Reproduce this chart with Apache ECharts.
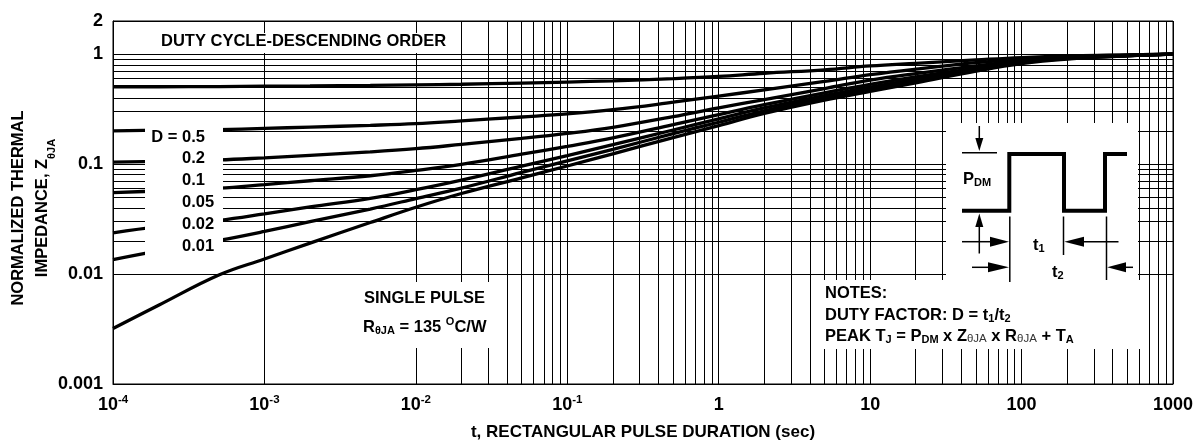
<!DOCTYPE html>
<html><head><meta charset="utf-8">
<script src="https://cdn.jsdelivr.net/npm/echarts@6/dist/echarts.min.js"></script>
<style>html,body{margin:0;padding:0;background:#fff}#c{width:1204px;height:445px}</style>
</head><body><div id="c"></div>
<script>
// ---- data ----
const durations = [1e-4,2e-4,5e-4,1e-3,2e-3,5e-3,1e-2,2e-2,5e-2,0.1,0.2,0.5,1,2,5,10,20,50,100,200,500,1000];
const zD05   = [0.505,0.505,0.507,0.51,0.513,0.519,0.526,0.532,0.545,0.557,0.572,0.598,0.626,0.67,0.72,0.78,0.825,0.885,0.93,0.962,0.985,1.0];
const zD02   = [0.2,0.203,0.206,0.211,0.217,0.225,0.233,0.247,0.268,0.286,0.312,0.365,0.415,0.473,0.564,0.65,0.73,0.835,0.90,0.948,0.98,1.0];
const zD01   = [0.104,0.106,0.109,0.114,0.12,0.129,0.138,0.151,0.171,0.19,0.216,0.27,0.325,0.386,0.486,0.58,0.665,0.78,0.875,0.935,0.975,1.0];
const zD005  = [0.055,0.057,0.0603,0.065,0.0705,0.0783,0.0875,0.0995,0.123,0.145,0.173,0.228,0.282,0.347,0.445,0.53,0.62,0.745,0.855,0.925,0.97,1.0];
const zD002  = [0.0237,0.027,0.0307,0.0352,0.0408,0.0488,0.0585,0.0715,0.096,0.1195,0.15,0.204,0.258,0.324,0.42,0.50,0.59,0.725,0.845,0.918,0.968,1.0];
const zD001  = [0.0135,0.0162,0.0202,0.0244,0.0299,0.039,0.0485,0.0605,0.084,0.107,0.136,0.189,0.24,0.305,0.40,0.48,0.57,0.71,0.835,0.91,0.965,1.0];
const zSingle= [0.0032,0.0052,0.0098,0.0137,0.0191,0.0294,0.0405,0.054,0.075,0.096,0.124,0.174,0.224,0.289,0.382,0.457,0.547,0.70,0.82,0.90,0.963,1.0];
const dutyLabels = ['0.5','0.2','0.1','0.05','0.02','0.01'];
const minorMultipliers = [2,3,4,5,6,7,8,9];
const xDecades = [-4,-3,-2,-1,0,1,2];
const yDecades = [-3,-2,-1];

const FF = '"Liberation Sans", Arial, Helvetica, sans-serif';
const xMinor = [], yMinor = [];
xDecades.forEach(k => minorMultipliers.forEach(m => xMinor.push(parseFloat((m*Math.pow(10,k)).toPrecision(3)))));
yDecades.forEach(k => minorMultipliers.forEach(m => yMinor.push(parseFloat((m*Math.pow(10,k)).toPrecision(3)))));

const curves = [zD05, zD02, zD01, zD005, zD002, zD001, zSingle];

const chart = echarts.init(document.getElementById('c'), null, {renderer:'canvas'});

function txt(x, y, text, opts) {
  return {type:'text', x:x, y:y, z:110, silent:true,
    style: Object.assign({text:text, fontFamily:FF, fontWeight:'bold', fontSize:16.5, fill:'#000', align:'left', verticalAlign:'middle'}, opts||{})};
}
const richSub = {
  m: {fontFamily:FF, fontWeight:'bold', fontSize:16.5, lineHeight:20, verticalAlign:'bottom', fill:'#000'},
  s: {fontFamily:FF, fontWeight:'bold', fontSize:11, lineHeight:12, padding:[10,0,0,0], verticalAlign:'bottom', fill:'#000'},
  n: {fontFamily:FF, fontWeight:'normal', fontSize:11.5, lineHeight:12, padding:[10,0,0,0], verticalAlign:'bottom', fill:'#333'},
  u: {fontFamily:FF, fontWeight:'bold', fontSize:11, lineHeight:12, verticalAlign:'top', fill:'#000'}
};
function rect(x,y,w,h){ return {type:'rect', z:100, silent:true, shape:{x:x,y:y,width:w,height:h}, style:{fill:'#fff'}}; }
function ln(x1,y1,x2,y2,w){ return {type:'line', z:105, silent:true, shape:{x1:x1,y1:y1,x2:x2,y2:y2}, style:{stroke:'#000', lineWidth:w||1.5}}; }
function tri(pts){ return {type:'polygon', z:106, silent:true, shape:{points:pts}, style:{fill:'#000'}}; }

const graphics = [
  rect(156,33,299,20),
  rect(145,121,78,142),
  rect(355,282,145,66),
  rect(946,123,192,159),
  rect(818,280,327,69),
  txt(161,41,'DUTY CYCLE-DESCENDING ORDER'),
  txt(182,137,'D = ',{align:'right'})
];
dutyLabels.forEach((d,i) => graphics.push(txt(182, 137 + i*21.9, d)));
graphics.push(txt(364,298,'SINGLE PULSE'));
graphics.push(txt(363,326,'{m|R}{s|θJA}{m| = 135 }{u|O}{m|C/W}',{rich:richSub}));
graphics.push(txt(825,293,'NOTES:'));
graphics.push(txt(825,314,'{m|DUTY FACTOR: D = t}{s|1}{m|/t}{s|2}',{rich:richSub}));
graphics.push(txt(825,335,'{m|PEAK T}{s|J}{m| = P}{s|DM}{m| x Z}{n|θJA}{m| x R}{n|θJA}{m| + T}{s|A}',{rich:richSub}));
// pulse diagram
graphics.push({type:'polyline', z:105, silent:true, shape:{points:[[962,210.7],[1009.3,210.7],[1009.3,154],[1064,154],[1064,210.7],[1105,210.7],[1105,154],[1127,154]]}, style:{stroke:'#000', lineWidth:4, fill:null, lineJoin:'miter'}});
graphics.push(ln(962,152.7,997,152.7,1.5));
graphics.push(ln(979.3,126,979.3,140,1.5));
graphics.push(tri([[979.3,151],[975.3,138],[983.3,138]]));
graphics.push(ln(979.3,226,979.3,253.5,1.5));
graphics.push(tri([[979.3,213.5],[975.3,227],[983.3,227]]));
graphics.push(ln(1009.8,216.5,1009.8,282,1.5));
graphics.push(ln(1063.5,216.5,1063.5,255,1.5));
graphics.push(ln(1106.5,216.5,1106.5,280,1.5));
graphics.push(ln(962,241.7,992,241.7,1.5));
graphics.push(tri([[1009,241.7],[990,236.7],[990,246.7]]));
graphics.push(ln(1082,241.7,1118.5,241.7,1.5));
graphics.push(tri([[1064.3,241.7],[1084,236.7],[1084,246.7]]));
graphics.push(ln(972,267.3,990,267.3,1.5));
graphics.push(tri([[1009,267.3],[988,262.3],[988,272.3]]));
graphics.push(ln(1124,267.3,1133,267.3,1.5));
graphics.push(tri([[1107.2,267.3],[1126,262.3],[1126,272.3]]));
graphics.push(txt(963,178,'{m|P}{s|DM}',{rich:richSub}));
graphics.push(txt(1033,244,'{m|t}{s|1}',{rich:richSub}));
graphics.push(txt(1052,271,'{m|t}{s|2}',{rich:richSub}));
// y axis title
graphics.push({type:'text', z:110, silent:true, x:33.5, y:208, rotation:Math.PI/2,
  style:{text:'{m|NORMALIZED THERMAL}\n{m|IMPEDANCE, Z}{s|θJA}', align:'center', verticalAlign:'middle',
    rich:{
      m:{fontFamily:FF, fontWeight:'bold', fontSize:16.5, lineHeight:23.5, verticalAlign:'top', fill:'#000'},
      s:{fontFamily:FF, fontWeight:'bold', fontSize:11, lineHeight:12, padding:[11,0,0,0], verticalAlign:'bottom', fill:'#000'}
    }}});

const option = {
  animation:false,
  backgroundColor:'#fff',
  grid:{left:113, right:31, top:21, bottom:61, show:true, borderColor:'#000', borderWidth:1, containLabel:false, outerBoundsMode:'none'},
  xAxis:{
    type:'log', logBase:10, min:1e-4, max:1000,
    axisLine:{show:true, lineStyle:{color:'#000', width:1}},
    axisTick:{show:false},
    splitLine:{show:true, lineStyle:{color:'#000', width:1, type:'solid'}},
    minorTick:{show:false}, minorSplitLine:{show:false},
    axisLabel:{show:true, margin:10, showMinLabel:true, showMaxLabel:true, hideOverlap:false,
      formatter:function(v){
        if (v < 1) { const e = Math.round(Math.log10(v)); return '{b|10}{p|' + e + '}'; }
        return '{b|' + Math.round(v) + '}';
      },
      rich:{
        b:{fontFamily:FF, fontWeight:'bold', fontSize:18, lineHeight:20, verticalAlign:'bottom', color:'#000'},
        p:{fontFamily:FF, fontWeight:'bold', fontSize:11.5, lineHeight:12, verticalAlign:'top', color:'#000'}
      }},
    name:'t, RECTANGULAR PULSE DURATION (sec)', nameLocation:'middle', nameGap:40,
    nameTextStyle:{fontFamily:FF, fontWeight:'bold', fontSize:17, color:'#000'}
  },
  yAxis:{
    type:'log', logBase:10, min:0.001, max:2,
    axisLine:{show:true, lineStyle:{color:'#000', width:1}},
    axisTick:{show:false},
    splitLine:{show:true, lineStyle:{color:'#000', width:1, type:'solid'}},
    minorTick:{show:false}, minorSplitLine:{show:false},
    axisLabel:{show:true, margin:10, showMinLabel:true, showMaxLabel:true, hideOverlap:false,
      fontFamily:FF, fontWeight:'bold', fontSize:18, color:'#000',
      formatter:function(v){
        if (v >= 1) return String(Math.round(v));
        const e = Math.round(Math.log10(v));
        return v.toFixed(-e);
      }}
  },
  graphic: graphics,
  series: [
    {type:'line', data:[[1,1]], symbol:'none', lineStyle:{width:0, opacity:0}, z:1, silent:true,
     markLine:{silent:true, symbol:['none','none'], animation:false, label:{show:false},
       lineStyle:{color:'#000', width:1, type:'solid'},
       emphasis:{disabled:true},
       data: xMinor.map(v => ({xAxis:v})).concat(yMinor.map(v => ({yAxis:v})))}}
  ].concat(curves.map(arr => ({
    type:'line', data: durations.map((t,i) => [t, arr[i]]), smooth:0.4, symbol:'none', showSymbol:false,
    lineStyle:{color:'#000', width:3.3}, z:3, silent:true
  })))
};
chart.setOption(option);
</script></body></html>
